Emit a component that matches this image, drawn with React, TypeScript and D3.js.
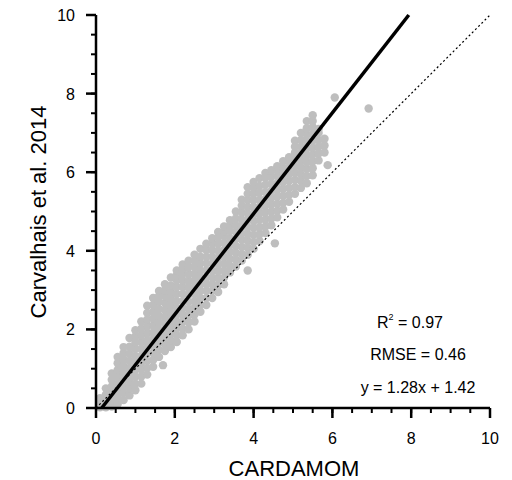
import React from "react";
import * as d3 from "d3";

// Scatter cloud: columns of points, [x, [y values]]
const cloudColumns: [number, number[]][] = [
  [0.1, [0.02, 0.15, 0.25]],
  [0.25, [0.02, 0.18, 0.34, 0.5]],
  [0.4, [0.04, 0.2, 0.38, 0.55, 0.72, 0.88]],
  [0.55, [0.1, 0.28, 0.45, 0.62, 0.8, 0.97, 1.14, 1.3]],
  [0.7, [0.2, 0.38, 0.55, 0.72, 0.9, 1.07, 1.24, 1.4, 1.55]],
  [0.85, [0.32, 0.5, 0.68, 0.85, 1.02, 1.2, 1.38, 1.56, 1.78]],
  [1.0, [0.45, 0.62, 0.8, 0.98, 1.15, 1.32, 1.5, 1.66, 1.82, 1.98]],
  [1.15, [0.62, 0.8, 0.98, 1.15, 1.33, 1.5, 1.68, 1.85, 2.02, 2.2]],
  [1.3, [0.85, 1.02, 1.2, 1.38, 1.55, 1.72, 1.9, 2.08, 2.25, 2.42, 2.6]],
  [1.45, [1.05, 1.22, 1.4, 1.58, 1.75, 1.92, 2.1, 2.28, 2.45, 2.62, 2.8]],
  [1.6, [1.3, 1.48, 1.65, 1.82, 2.0, 2.18, 2.35, 2.52, 2.7, 2.85, 2.98]],
  [1.75, [1.45, 1.62, 1.8, 1.98, 2.15, 2.32, 2.5, 2.68, 2.85, 3.0, 3.15]],
  [1.9, [1.55, 1.72, 1.9, 2.08, 2.25, 2.42, 2.6, 2.78, 2.95, 3.12, 3.32]],
  [2.05, [1.68, 1.85, 2.02, 2.2, 2.38, 2.55, 2.72, 2.9, 3.08, 3.25, 3.38, 3.5]],
  [2.2, [1.85, 2.02, 2.2, 2.38, 2.55, 2.72, 2.9, 3.08, 3.25, 3.42, 3.55, 3.65]],
  [2.35, [2.0, 2.18, 2.35, 2.52, 2.7, 2.88, 3.05, 3.22, 3.4, 3.58, 3.75]],
  [2.5, [2.2, 2.38, 2.55, 2.72, 2.9, 3.08, 3.25, 3.42, 3.6, 3.75, 3.9]],
  [2.65, [2.45, 2.62, 2.8, 2.98, 3.15, 3.32, 3.5, 3.68, 3.85, 4.05]],
  [2.8, [2.62, 2.8, 2.98, 3.15, 3.32, 3.5, 3.68, 3.85, 4.02, 4.18]],
  [2.95, [2.8, 2.98, 3.15, 3.32, 3.5, 3.68, 3.85, 4.02, 4.18, 4.32]],
  [3.1, [2.95, 3.12, 3.3, 3.48, 3.65, 3.82, 4.0, 4.18, 4.34, 4.48]],
  [3.25, [3.15, 3.32, 3.5, 3.68, 3.85, 4.02, 4.2, 4.38, 4.5, 4.62]],
  [3.4, [3.45, 3.62, 3.8, 3.98, 4.15, 4.32, 4.5, 4.65, 4.78]],
  [3.55, [3.6, 3.78, 3.95, 4.12, 4.3, 4.48, 4.65, 4.82, 5.0]],
  [3.7, [3.75, 3.92, 4.1, 4.28, 4.45, 4.62, 4.8, 4.98, 5.15, 5.3]],
  [3.85, [3.5, 3.9, 4.08, 4.25, 4.42, 4.6, 4.78, 4.95, 5.12, 5.3, 5.45, 5.62]],
  [4.0, [4.05, 4.22, 4.4, 4.58, 4.75, 4.92, 5.1, 5.28, 5.45, 5.6, 5.75]],
  [4.15, [4.25, 4.42, 4.6, 4.78, 4.95, 5.12, 5.3, 5.48, 5.65, 5.85]],
  [4.3, [4.45, 4.62, 4.8, 4.98, 5.15, 5.32, 5.5, 5.68, 5.85, 5.98]],
  [4.45, [4.65, 4.82, 5.0, 5.18, 5.35, 5.52, 5.7, 5.88, 6.05]],
  [4.6, [4.85, 5.02, 5.2, 5.38, 5.55, 5.72, 5.9, 6.05, 6.15]],
  [4.75, [5.05, 5.22, 5.4, 5.58, 5.75, 5.92, 6.1, 6.28]],
  [4.9, [5.25, 5.42, 5.6, 5.78, 5.95, 6.12, 6.28, 6.38]],
  [5.05, [5.45, 5.62, 5.8, 5.98, 6.15, 6.32, 6.5, 6.65, 6.8]],
  [5.2, [5.6, 5.78, 5.95, 6.12, 6.3, 6.48, 6.65, 6.82, 7.0]],
  [5.35, [5.72, 5.9, 6.08, 6.25, 6.42, 6.6, 6.78, 6.95, 7.12, 7.3]],
  [5.5, [5.92, 6.1, 6.28, 6.45, 6.62, 6.8, 6.98, 7.15, 7.3, 7.45]],
  [5.65, [6.3, 6.48, 6.65, 6.82, 7.0, 7.1]],
  [5.8, [6.5, 6.68, 6.85]],
];

const outliers: [number, number][] = [
  [1.7, 1.09],
  [4.54, 4.19],
  [5.88, 6.18],
  [6.06, 7.9],
  [6.92, 7.62],
];

const xTicks = [0, 2, 4, 6, 8, 10];
const yTicks = [0, 2, 4, 6, 8, 10];
const minorTicks = d3.range(0, 10.01, 0.5);

const fitSlope = 1.283;
const fitIntercept = -0.186;

const statsLines = ["RMSE = 0.46", "y = 1.28x + 1.42"];

export default function App() {
  const x = d3.scaleLinear().domain([0, 10]).range([96, 490]);
  const y = d3.scaleLinear().domain([0, 10]).range([408, 15]);

  const points: [number, number][] = [];
  cloudColumns.forEach(([cx, ys]) => ys.forEach((v) => points.push([cx, v])));
  outliers.forEach((p) => points.push(p));

  const fitX0 = -fitIntercept / fitSlope;
  const fitX1 = (10 - fitIntercept) / fitSlope;
  const line = d3.line<[number, number]>().x((d) => x(d[0])).y((d) => y(d[1]));

  const font = "'Liberation Sans', Arial, Helvetica, sans-serif";

  return (
    <svg
      width={512}
      height={480}
      style={{ position: "absolute", left: 0, top: 0, background: "#fff" }}
      fontFamily={font}
    >
      <g>
        {points.map((p, i) => (
          <circle key={i} cx={x(p[0])} cy={y(p[1])} r={4.2} fill="#bebebe" />
        ))}
      </g>
      <path
        d={line([[0, 0], [10, 10]]) || ""}
        stroke="#000"
        strokeWidth={1.2}
        strokeDasharray="2,2.5"
        fill="none"
      />
      <path
        d={line([[fitX0, 0], [fitX1, 10]]) || ""}
        stroke="#000"
        strokeWidth={3.5}
        fill="none"
      />
      {/* axes */}
      <line x1={x(0)} x2={x(10)} y1={y(0)} y2={y(0)} stroke="#000" strokeWidth={2.5} />
      <line x1={x(0)} x2={x(0)} y1={y(0)} y2={y(10)} stroke="#000" strokeWidth={2.5} />
      {minorTicks.map((t) => (
        <g key={"m" + t}>
          <line x1={x(t)} x2={x(t)} y1={y(0)} y2={y(0) + 5} stroke="#000" strokeWidth={2} />
          <line x1={x(0) - 5} x2={x(0)} y1={y(t)} y2={y(t)} stroke="#000" strokeWidth={2} />
        </g>
      ))}
      {xTicks.map((t) => (
        <g key={"x" + t}>
          <line x1={x(t)} x2={x(t)} y1={y(0)} y2={y(0) + 10} stroke="#000" strokeWidth={2.5} />
          <text x={x(t)} y={444} fontSize={16} textAnchor="middle">
            {t}
          </text>
        </g>
      ))}
      {yTicks.map((t) => (
        <g key={"y" + t}>
          <line x1={x(0) - 10} x2={x(0)} y1={y(t)} y2={y(t)} stroke="#000" strokeWidth={2.5} />
          <text x={75} y={y(t) + 6} fontSize={16} textAnchor="end">
            {t}
          </text>
        </g>
      ))}
      <text x={294} y={476} fontSize={22} textAnchor="middle">
        CARDAMOM
      </text>
      <text
        transform="translate(46,212) rotate(-90)"
        fontSize={22}
        textAnchor="middle"
      >
        Carvalhais et al. 2014
      </text>
      <text x={410} y={328} fontSize={16} textAnchor="middle">
        R<tspan fontSize={9} dy={-8}>2</tspan>
        <tspan dy={8}> = 0.97</tspan>
      </text>
      {statsLines.map((s, i) => (
        <text key={s} x={418} y={360 + i * 33} fontSize={16} textAnchor="middle">
          {s}
        </text>
      ))}
    </svg>
  );
}
